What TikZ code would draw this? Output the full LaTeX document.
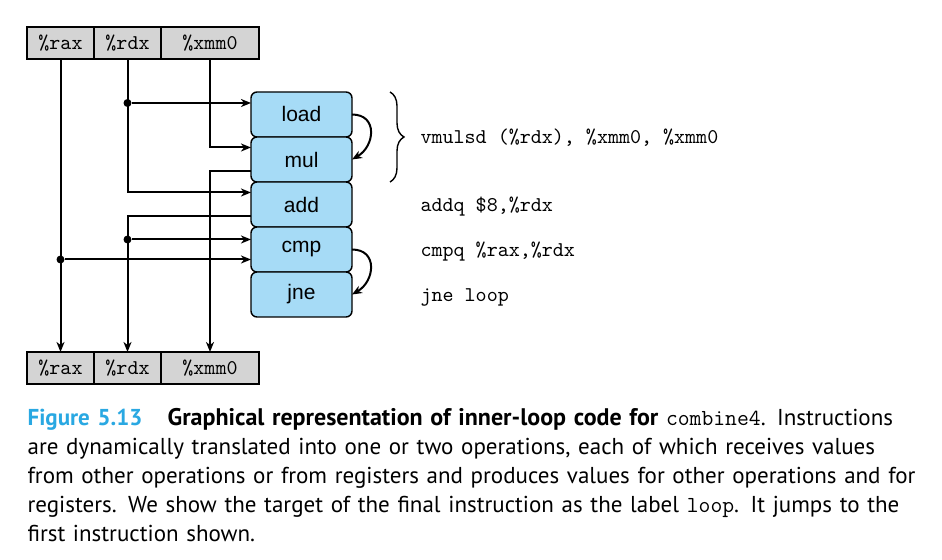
\documentclass[tikz,border=0pt]{standalone}
\usepackage{fontspec}
\newfontfamily\opfont{Liberation Sans}
\newfontfamily\capfont{PT Sans}
\usetikzlibrary{positioning,decorations.pathreplacing,arrows.meta}
\definecolor{regfill}{RGB}{212,212,212}
\definecolor{opfill}{RGB}{166,219,246}
\definecolor{figblue}{RGB}{41,168,226}
\begin{document}
\begin{tikzpicture}[x=0.5pt,y=-0.5pt,semithick,>={Stealth[length=5pt,width=4pt,inset=1.5pt]},
    reg/.style={draw,line width=0.7pt,fill=regfill,outer sep=0pt,inner sep=0pt,minimum height=16pt,
      font=\ttfamily\fontsize{10.5}{12}\selectfont},
    op/.style={draw,line width=0.7pt,fill=opfill,rounded corners=3pt,outer sep=0pt,inner sep=0pt,
      minimum width=50.5pt,minimum height=22.5pt,font=\opfont\fontsize{10.5}{12}\selectfont},
    flow/.style={->,line width=1pt},
    dot/.style={circle,fill,inner sep=0pt,minimum size=4pt},
    code/.style={anchor=base west,inner sep=0pt,font=\ttfamily\fontsize{10.5}{12}\selectfont}]
    \useasboundingbox[fill=white](0,0)rectangle(942,560);
    % registers, top and bottom
    \node[reg,minimum width=33.5pt,anchor=north west](raxT)at(27,27){\%rax};
    \node[reg,minimum width=33.5pt,right=0pt of raxT](rdxT){\%rdx};
    \node[reg,minimum width=49pt,right=0pt of rdxT](xmmT){\%xmm0};
    \node[reg,minimum width=33.5pt,anchor=north west](raxB)at(27,352){\%rax};
    \node[reg,minimum width=33.5pt,right=0pt of raxB](rdxB){\%rdx};
    \node[reg,minimum width=49pt,right=0pt of rdxB](xmmB){\%xmm0};
    % operations
    \node[op](load)at(301.5,114.5){load};
    \node[op,below=0pt of load](mul){mul};
    \node[op,below=0pt of mul](add){add};
    \node[op,below=0pt of add](cmp){cmp};
    \node[op,below=0pt of cmp](jne){jne};
    \coordinate(loadIn)at([yshift=5.75pt]load.west);
    \coordinate(mulIn)at([yshift=6pt]mul.west);
    \coordinate(mulOut)at([yshift=-6pt]mul.west);
    \coordinate(addIn)at([yshift=6pt]add.west);
    \coordinate(addOut)at([yshift=-6pt]add.west);
    \coordinate(cmpInA)at([yshift=5pt]cmp.west);
    \coordinate(cmpInB)at([yshift=-5pt]cmp.west);
    % data flow
    \draw[flow](raxT.south)--(raxB.north);
    \draw[flow](rdxT.south)|-(addIn);
    \draw[flow](xmmT.south)|-(mulIn);
    \draw[flow](mulOut)-|(xmmB.north);
    \draw[flow](addOut)-|(rdxB.north);
    \node[dot](dLoad)at(rdxT.south|-loadIn){};
    \node[dot](dCmpA)at(rdxB.north|-cmpInA){};
    \node[dot](dCmpB)at(raxB.north|-cmpInB){};
    \draw[flow](dLoad)--(loadIn);
    \draw[flow](dCmpA)--(cmpInA);
    \draw[flow](dCmpB)--(cmpInB);
    \draw[flow](load.east)to[out=0,in=30,looseness=1.5](mul.east);
    \draw[flow](cmp.east)to[out=0,in=30,looseness=1.5](jne.east);
    % machine code
    \draw[line width=0.7pt,decorate,decoration={brace,amplitude=7pt}]
        ([xshift=19pt]load.north east)--([xshift=19pt]mul.south east);
    \node[code](vmul)at(420,144){vmulsd (\%rdx), \%xmm0, \%xmm0};
    \node[code](addq)at(420,212){addq \$8,\%rdx};
    \node[code](cmpq)at(420,257){cmpq \%rax,\%rdx};
    \node[code](jnel)at(420,301.5){jne loop};
    % caption
    \node[anchor=north west,inner sep=0pt,text width=460pt,align=left,
        font=\capfont\fontsize{11.5}{14.5}\selectfont](cap)at(27,408){%
        {\bfseries\color{figblue}Figure 5.13}\hspace{1.1em}{\bfseries\fontsize{12}{14.5}\selectfont Graphical representation of inner-loop code for} {\ttfamily combine4}. Instructions\\
        are dynamically translated into one or two operations, each of which receives values\\
        from other operations or from registers and produces values for other operations and for\\
        registers. We show the target of the final instruction as the label {\ttfamily loop}. It jumps to the\\
        first instruction shown.};
\end{tikzpicture}
\end{document}
